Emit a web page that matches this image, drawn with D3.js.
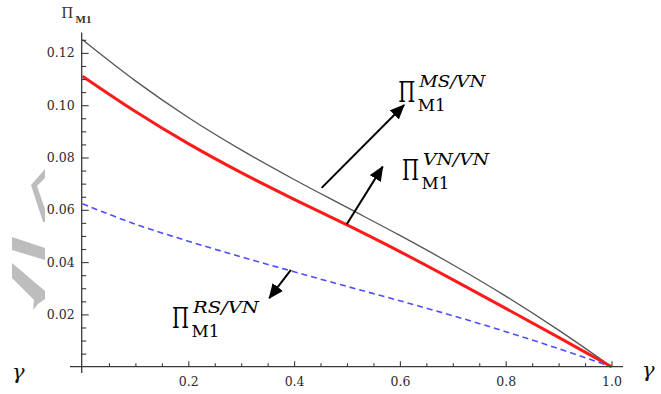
<!DOCTYPE html>
<html>
<head>
<meta charset="utf-8">
<script src="https://cdn.jsdelivr.net/npm/d3@7"></script>
<style>
  html, body { margin: 0; padding: 0; background: #fff; }
  svg { display: block; }
</style>
</head>
<body>
<svg id="chart" width="661" height="394"></svg>
<script>
// γ grid and manufacturer-1 profit under the three channel structures
const gamma = [0, 0.1, 0.2, 0.3, 0.4, 0.5, 0.6, 0.7, 0.8, 0.9, 1.0];
const profitMSVN = [0.1250, 0.1093, 0.0953, 0.0829, 0.0716, 0.0609, 0.0502, 0.0390, 0.0270, 0.0140, 0];
const profitVNVN = [0.1111, 0.0976, 0.0853, 0.0742, 0.0640, 0.0542, 0.0440, 0.0333, 0.0223, 0.0112, 0];
const profitRSVN = [0.0623, 0.0545, 0.0480, 0.0420, 0.0363, 0.0307, 0.0252, 0.0195, 0.0134, 0.0069, 0];

// axis ticks
const xMajor = [0.2, 0.4, 0.6, 0.8, 1.0];
const yMajor = [0.02, 0.04, 0.06, 0.08, 0.10, 0.12];
const xMinor = d3.range(1, 21).map(i => i * 0.05).filter(v => !xMajor.some(m => Math.abs(m - v) < 1e-9));
const yMinor = d3.range(1, 26).map(i => i * 0.005).filter(v => !yMajor.some(m => Math.abs(m - v) < 1e-9));

// curve labels: superscript text and anchor (γ, profit) of the Π glyph baseline
const labelSup = ["MS/VN", "VN/VN", "RS/VN"];
const labelAt = [[0.597, 0.1013], [0.604, 0.0714], [0.169, 0.0148]];
// arrows: from a point on a curve to a point near its label
const arrowFrom = [[0.452, 0.0684], [0.4995, 0.0545], [0.394, 0.0370]];
const arrowTo = [[0.608, 0.1001], [0.5675, 0.0765], [0.353, 0.0262]];

const svg = d3.select("#chart");
const x = d3.scaleLinear().domain([0, 1]).range([82.5, 611.5]);
const y = d3.scaleLinear().domain([0, 0.12]).range([366.7, 52.9]);
const axisColor = "#3a3a3a";
const serif = "'DejaVu Serif', serif";

// faint grey shapes at the left margin
const wm = svg.append("g").attr("fill", "#bdbdbd");
[
  [[45,169],[31,185],[43,222],[45,222],[45,209],[37,186],[45,178]],
  [[12,237],[45,248],[45,260],[12,250]],
  [[12,263],[45,291],[45,299],[38,304],[33,310],[34,300],[12,278]]
].forEach(p => wm.append("path").attr("d", d3.line()(p)));

// series
const series = [
  { values: profitMSVN, stroke: "#555555", width: 1.3, dash: null },
  { values: profitVNVN, stroke: "#ff1a1a", width: 3, dash: null },
  { values: profitRSVN, stroke: "#4d4dff", width: 1.6, dash: "6,4" }
];
const line = d3.line().x(d => x(d[0])).y(d => y(d[1])).curve(d3.curveCatmullRom.alpha(0.5));
series.forEach(s => {
  svg.append("path")
    .datum(gamma.map((g, i) => [g, s.values[i]]))
    .attr("d", line)
    .attr("fill", "none")
    .attr("stroke", s.stroke)
    .attr("stroke-width", s.width)
    .attr("stroke-dasharray", s.dash)
    .attr("stroke-linejoin", "round");
});

// axes
const axes = svg.append("g");
axes.append("line").attr("x1", 70).attr("x2", 623).attr("y1", y(0)).attr("y2", y(0))
  .attr("stroke", axisColor).attr("stroke-width", 1.3);
axes.append("line").attr("x1", 81.7).attr("x2", 81.7).attr("y1", 32.5).attr("y2", 373)
  .attr("stroke", axisColor).attr("stroke-width", 1.3);

function styleAxis(g) {
  g.select(".domain").remove();
  g.selectAll(".tick line").attr("stroke", axisColor).attr("stroke-width", 1.1);
  g.selectAll(".tick text").attr("fill", "#2a2a2a").attr("font-family", serif).attr("font-size", 12.5);
}
svg.append("g").attr("transform", `translate(0,${y(0)})`)
  .call(d3.axisBottom(x).tickValues(xMajor).tickSize(-5.5).tickPadding(10).tickFormat(d3.format(".1f")))
  .call(styleAxis);
svg.append("g").attr("transform", `translate(0,${y(0)})`)
  .call(d3.axisBottom(x).tickValues(xMinor).tickSize(-3.5).tickFormat(""))
  .call(styleAxis);
svg.append("g").attr("transform", "translate(81.7,0)")
  .call(d3.axisLeft(y).tickValues(yMajor).tickSize(-7).tickPadding(7).tickFormat(d3.format(".2f")))
  .call(styleAxis);
svg.append("g").attr("transform", "translate(81.7,0)")
  .call(d3.axisLeft(y).tickValues(yMinor).tickSize(-4.5).tickFormat(""))
  .call(styleAxis);

// axis titles
svg.append("text").attr("x", 61.5).attr("y", 18.3).attr("font-family", "'Liberation Serif', serif")
  .attr("font-size", 16).attr("fill", "#333").text("Π");
svg.append("text").attr("x", 75.5).attr("y", 23).attr("font-family", "'Liberation Serif', serif")
  .attr("font-size", 11).attr("font-weight", "bold").attr("fill", "#333").text("M1");
svg.append("text").attr("x", 12).attr("y", 378.5).attr("font-family", serif).attr("font-style", "italic")
  .attr("font-size", 21).attr("fill", "#111").text("γ");
svg.append("text").attr("x", 642).attr("y", 376.5).attr("font-family", serif).attr("font-style", "italic")
  .attr("font-size", 21).attr("fill", "#111").text("γ");

// arrows
svg.append("defs").append("marker")
  .attr("id", "head").attr("markerUnits", "userSpaceOnUse")
  .attr("markerWidth", 15).attr("markerHeight", 13)
  .attr("refX", 14).attr("refY", 6.5).attr("orient", "auto")
  .append("path").attr("d", "M0,0 L15,6.5 L0,13 Z").attr("fill", "#000");
arrowFrom.forEach((a, i) => {
  const b = arrowTo[i];
  svg.append("line")
    .attr("x1", x(a[0])).attr("y1", y(a[1]))
    .attr("x2", x(b[0])).attr("y2", y(b[1]))
    .attr("stroke", "#000").attr("stroke-width", 2)
    .attr("marker-end", "url(#head)");
});

// curve labels Π^{sup}_{M1}
labelAt.forEach((p, i) => {
  const px = x(p[0]), py = y(p[1]);
  const g = svg.append("g").attr("fill", "#000").attr("font-family", serif);
  g.append("text").attr("x", px).attr("y", py).attr("font-size", 27)
    .attr("textLength", 17).attr("lengthAdjust", "spacingAndGlyphs").text("Π");
  g.append("text").attr("x", px + 21).attr("y", py - 14.5).attr("font-size", 17).attr("font-style", "italic")
    .attr("textLength", 66).attr("lengthAdjust", "spacingAndGlyphs").text(labelSup[i]);
  g.append("text").attr("x", px + 19.5).attr("y", py + 9).attr("font-size", 16.5)
    .attr("textLength", 28).attr("lengthAdjust", "spacingAndGlyphs").text("M1");
});
</script>
</body>
</html>
